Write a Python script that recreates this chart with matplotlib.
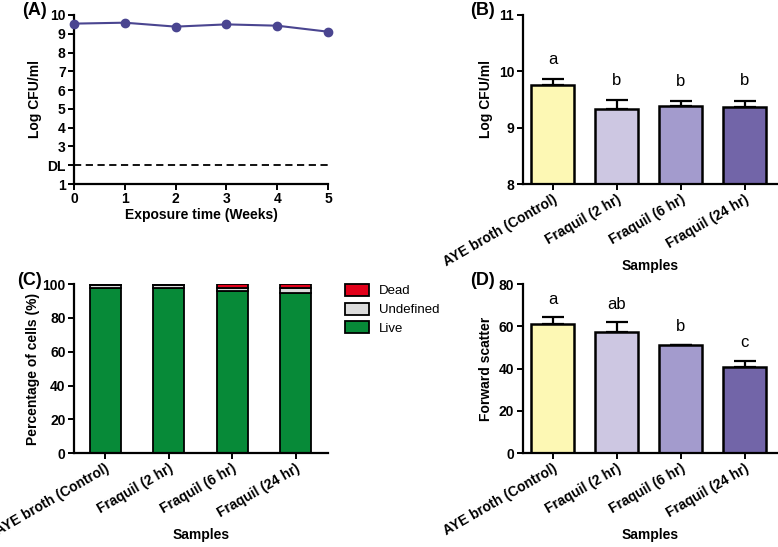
import matplotlib.pyplot as plt
import numpy as np

plt.rcParams['font.family'] = ['Liberation Sans', 'DejaVu Sans']
plt.rcParams['font.weight'] = 'bold'
plt.rcParams['axes.labelweight'] = 'bold'

# (A) survival over time
weeks = [0, 1, 2, 3, 4, 5]
log_cfu_time = [9.54, 9.59, 9.38, 9.50, 9.43, 9.11]
detect_limit = 2

# shared sample names
samples = ['AYE broth (Control)', 'Fraquil (2 hr)', 'Fraquil (6 hr)', 'Fraquil (24 hr)']

# (B) log CFU per sample
log_cfu = [9.75, 9.34, 9.38, 9.36]
log_cfu_err = [0.11, 0.15, 0.09, 0.12]
log_cfu_grp = ['a', 'b', 'b', 'b']

# (C) live / undefined / dead percentages
live = [97.8, 97.8, 96.0, 94.8]
undefined = [1.5, 1.5, 1.8, 2.8]
dead = [0.7, 0.7, 2.2, 2.4]

# (D) forward scatter
fsc = [61.2, 57.5, 51.0, 40.6]
fsc_err = [3.0, 4.4, 0.3, 3.0]
fsc_grp = ['a', 'ab', 'b', 'c']

bar_cols = ['#fdf8b4', '#cdc7e2', '#a39bcd', '#7265a8']

fig = plt.figure(figsize=(7.78, 5.47), dpi=100)
axA = fig.add_axes([0.0951, 0.6636, 0.3265, 0.309])
axB = fig.add_axes([0.6718, 0.6636, 0.3265, 0.309])
axC = fig.add_axes([0.0951, 0.1713, 0.3265, 0.3095])
axD = fig.add_axes([0.6718, 0.1713, 0.3265, 0.3095])

def style(ax):
    for s in ['top', 'right']:
        ax.spines[s].set_visible(False)
    for s in ['left', 'bottom']:
        ax.spines[s].set_linewidth(1.6)
    ax.tick_params(width=1.4, length=4, labelsize=10, pad=2)
    for t in ax.get_xticklabels() + ax.get_yticklabels():
        t.set_fontweight('bold')

# ---- A
axA.plot(weeks, log_cfu_time, '-o', color='#4a4590', ms=6, lw=1.5, clip_on=False, zorder=3)
axA.axhline(detect_limit, ls='--', color='black', lw=1.3, dashes=(4, 2.5))
axA.set_xlim(0, 5)
axA.set_ylim(1, 10)
axA.set_xticks(weeks)
axA.set_yticks(range(1, 11))
axA.set_yticklabels(['1', 'DL', '3', '4', '5', '6', '7', '8', '9', '10'])
axA.set_xlabel('Exposure time (Weeks)', fontsize=10, labelpad=1)
axA.set_ylabel('Log CFU/ml', fontsize=10)
style(axA)

x = np.arange(len(samples))

def sample_axis(ax):
    ax.set_xticks(x)
    ax.set_xticklabels(samples, rotation=30, ha='right', rotation_mode='anchor', fontsize=9)
    ax.set_xlabel('Samples', fontsize=10, va='center')
    ax.xaxis.set_label_coords(0.5, -0.483)

# ---- B
axB.bar(x, log_cfu, width=0.67, color=bar_cols, edgecolor='black', linewidth=1.8, zorder=2)
axB.errorbar(x, log_cfu, yerr=[np.zeros(4), log_cfu_err], fmt='none', ecolor='black',
             elinewidth=1.6, capsize=8, capthick=1.6, zorder=1)
for xi, v, e, g in zip(x, log_cfu, log_cfu_err, log_cfu_grp):
    axB.text(xi, v + e + 0.22, g, ha='center', va='bottom', fontsize=12, fontweight='normal')
axB.set_xlim(-0.47, 3.5)
axB.set_ylim(8, 11)
axB.set_yticks([8, 9, 10, 11])
axB.set_ylabel('Log CFU/ml', fontsize=10)
sample_axis(axB)
style(axB)

# ---- C
axC.bar(x, live, width=0.49, color='#078a38', edgecolor='black', linewidth=1.3, label='Live')
axC.bar(x, undefined, width=0.49, bottom=live, color='#dcdcdc', edgecolor='black', linewidth=1.3, label='Undefined')
axC.bar(x, dead, width=0.49, bottom=np.array(live) + np.array(undefined), color='#e2001a',
        edgecolor='black', linewidth=1.3, label='Dead')
axC.set_xlim(-0.49, 3.51)
axC.set_ylim(0, 100)
axC.set_yticks([0, 20, 40, 60, 80, 100])
axC.set_ylabel('Percentage of cells (%)', fontsize=10, labelpad=2)
sample_axis(axC)
style(axC)
h, l = axC.get_legend_handles_labels()
leg = axC.legend(h[::-1], l[::-1], loc='upper left', bbox_to_anchor=(1.02, 1.07), frameon=False,
                 fontsize=9.5, handlelength=1.8, handleheight=1.0, labelspacing=0.4)
for t in leg.get_texts():
    t.set_fontweight('normal')

# ---- D
axD.bar(x, fsc, width=0.67, color=bar_cols, edgecolor='black', linewidth=1.8, zorder=2)
axD.errorbar(x, fsc, yerr=[np.zeros(4), fsc_err], fmt='none', ecolor='black',
             elinewidth=1.6, capsize=8, capthick=1.6, zorder=1)
for xi, v, e, g in zip(x, fsc, fsc_err, fsc_grp):
    axD.text(xi, v + e + 5, g, ha='center', va='bottom', fontsize=12, fontweight='normal')
axD.set_xlim(-0.47, 3.5)
axD.set_ylim(0, 80)
axD.set_yticks([0, 20, 40, 60, 80])
axD.set_ylabel('Forward scatter', fontsize=10)
sample_axis(axD)
style(axD)

# panel letters
fig.text(0.028, 0.996, '(A)', fontsize=13, fontweight='bold', va='top')
fig.text(0.604, 0.996, '(B)', fontsize=13, fontweight='bold', va='top')
fig.text(0.022, 0.503, '(C)', fontsize=13, fontweight='bold', va='top')
fig.text(0.604, 0.503, '(D)', fontsize=13, fontweight='bold', va='top')

fig.savefig('out.png', dpi=100)
